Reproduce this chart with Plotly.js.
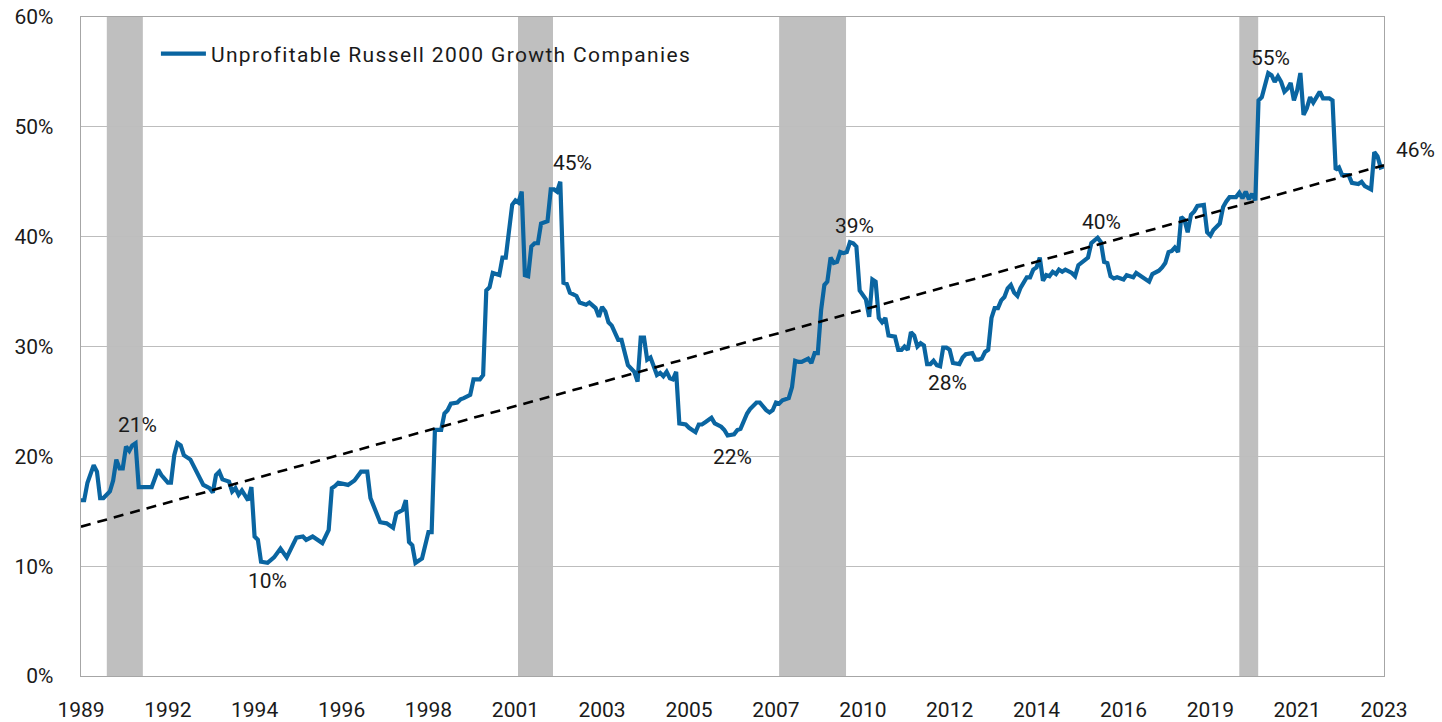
<!DOCTYPE html>
<html>
<head>
<meta charset="utf-8">
<script src="https://cdn.plot.ly/plotly-3.0.1.min.js"></script>
<style>
  html, body { margin: 0; padding: 0; background: #ffffff; }
  #chart { width: 1442px; height: 722px; }
  .legendtext { letter-spacing: 1.35px; }
</style>
</head>
<body>
<div id="chart"></div>
<script>
// Month-end observations, share (%) of unprofitable Russell 2000 Growth companies
const dates = [
  '1989-11','1989-12','1990-01','1990-03','1990-04','1990-05','1990-06','1990-08','1990-09','1990-10',
  '1990-11','1990-12','1991-01','1991-02','1991-03','1991-04','1991-05','1991-07','1991-09','1991-11',
  '1991-12','1992-02','1992-03','1992-04','1992-05','1992-06','1992-07','1992-09','1992-11','1993-01',
  '1993-03','1993-04','1993-05','1993-06','1993-07','1993-09','1993-10','1993-11','1993-12','1994-01',
  '1994-03','1994-04','1994-05','1994-06','1994-07','1994-09','1994-11','1995-01','1995-03','1995-05',
  '1995-06','1995-08','1995-09','1995-11','1995-12','1996-02','1996-04','1996-05','1996-06','1996-07',
  '1996-10','1996-12','1997-02','1997-04','1997-05','1997-06','1997-08','1997-10','1997-12','1998-01',
  '1998-03','1998-04','1998-05','1998-06','1998-07','1998-09','1998-11','1998-12','1999-01','1999-03',
  '1999-04','1999-05','1999-06','1999-08','1999-09','1999-10','1999-12','2000-01','2000-03','2000-04',
  '2000-05','2000-06','2000-07','2000-09','2000-10','2000-11','2001-01','2001-02','2001-03','2001-04',
  '2001-05','2001-06','2001-07','2001-08','2001-09','2001-10','2001-12','2002-01','2002-02','2002-03',
  '2002-04','2002-05','2002-06','2002-07','2002-09','2002-10','2002-12','2003-01','2003-03','2003-04',
  '2003-05','2003-06','2003-07','2003-08','2003-10','2003-11','2003-12','2004-01','2004-03','2004-04',
  '2004-05','2004-06','2004-07','2004-08','2004-09','2004-10','2004-11','2004-12','2005-01','2005-02',
  '2005-03','2005-04','2005-05','2005-07','2005-08','2005-10','2005-11','2005-12','2006-01','2006-03',
  '2006-04','2006-06','2006-07','2006-08','2006-10','2006-11','2006-12','2007-01','2007-02','2007-03',
  '2007-05','2007-06','2007-08','2007-09','2007-10','2007-11','2007-12','2008-01','2008-03','2008-04',
  '2008-05','2008-06','2008-07','2008-09','2008-10','2008-11','2008-12','2009-01','2009-02','2009-03',
  '2009-04','2009-05','2009-06','2009-07','2009-08','2009-09','2009-10','2009-11','2009-12','2010-01',
  '2010-02','2010-03','2010-04','2010-05','2010-06','2010-07','2010-08','2010-09','2010-10','2010-11',
  '2010-12','2011-01','2011-02','2011-03','2011-04','2011-05','2011-06','2011-07','2011-08','2011-09',
  '2011-10','2011-11','2011-12','2012-01','2012-02','2012-03','2012-04','2012-05','2012-06','2012-08',
  '2012-09','2012-10','2012-12','2013-01','2013-02','2013-03','2013-04','2013-05','2013-06','2013-07',
  '2013-08','2013-09','2013-10','2013-11','2013-12','2014-01','2014-02','2014-03','2014-04','2014-05',
  '2014-06','2014-07','2014-08','2014-09','2014-10','2014-11','2014-12','2015-01','2015-02','2015-03',
  '2015-04','2015-05','2015-07','2015-08','2015-09','2015-10','2015-11','2015-12','2016-01','2016-02',
  '2016-03','2016-04','2016-05','2016-06','2016-07','2016-08','2016-09','2016-11','2016-12','2017-01',
  '2017-02','2017-03','2017-05','2017-06','2017-07','2017-08','2017-10','2017-11','2017-12','2018-01',
  '2018-02','2018-03','2018-04','2018-05','2018-06','2018-07','2018-08','2018-09','2018-10','2018-12',
  '2019-01','2019-02','2019-03','2019-05','2019-06','2019-07','2019-08','2019-10','2019-11','2019-12',
  '2020-01','2020-02','2020-03','2020-04','2020-05','2020-06','2020-07','2020-08','2020-09','2020-10',
  '2020-11','2020-12','2021-01','2021-02','2021-03','2021-04','2021-05','2021-06','2021-07','2021-08',
  '2021-09','2021-10','2021-11','2021-12','2022-01','2022-03','2022-04','2022-05','2022-06','2022-07',
  '2022-09','2022-10','2022-12','2023-01','2023-02','2023-04','2023-05','2023-06','2023-07','2023-08'
];
const unprofitable = [
  16.0,16.0,17.6,19.2,18.6,16.2,16.2,16.8,17.8,19.7,
  18.9,18.9,20.9,20.5,21.0,21.2,17.2,17.2,17.2,18.8,
  18.3,17.6,17.6,20.1,21.2,21.0,20.1,19.7,18.6,17.4,
  17.1,16.7,18.3,18.6,17.9,17.7,16.8,17.1,16.5,16.9,
  16.0,17.2,12.7,12.4,10.4,10.3,10.8,11.6,10.8,12.1,
  12.6,12.7,12.4,12.7,12.5,12.1,13.3,17.1,17.3,17.6,
  17.4,17.8,18.6,18.6,16.2,15.4,14.0,13.9,13.5,14.8,
  15.1,16.0,12.2,11.9,10.3,10.7,13.1,13.1,22.4,22.4,
  23.9,24.2,24.8,24.9,25.2,25.3,25.6,27.0,27.0,27.4,
  35.1,35.4,36.7,36.5,38.1,38.1,42.9,43.3,43.1,44.1,
  36.5,36.4,39.1,39.4,39.4,41.2,41.4,44.3,44.3,44.1,
  45.0,35.8,35.7,34.9,34.6,34.0,33.8,34.0,33.5,32.7,
  33.6,33.2,32.2,31.9,30.6,30.6,29.4,28.3,27.7,26.8,
  30.8,30.8,28.8,29.0,28.2,27.4,27.6,27.3,27.7,27.1,
  27.0,27.7,23.0,22.9,22.6,22.2,22.9,22.9,23.1,23.5,
  23.0,22.7,22.4,21.9,22.0,22.4,22.5,23.3,23.9,24.3,
  24.9,24.9,24.2,24.0,24.2,24.9,24.8,25.1,25.3,26.3,
  28.7,28.6,28.6,28.9,28.5,29.4,29.4,33.3,35.6,35.9,
  38.1,37.6,37.7,38.6,38.5,38.6,39.5,39.4,39.1,35.1,
  34.7,34.3,32.7,36.1,35.9,32.6,32.2,32.6,31.0,30.9,
  30.9,29.7,29.7,30.0,29.7,31.3,31.0,30.0,30.3,30.1,
  28.4,28.4,28.7,28.3,28.2,29.9,29.9,29.7,28.5,28.4,
  29.0,29.3,29.4,28.8,28.8,28.9,29.5,29.7,32.6,33.5,
  33.5,34.2,34.5,35.3,35.6,34.9,34.6,35.3,35.9,36.3,
  36.3,37.0,37.2,38.1,36.0,36.5,36.4,36.8,36.6,37.0,
  36.8,37.0,36.7,36.4,37.4,37.6,37.8,38.1,39.4,39.7,
  39.9,39.5,37.7,37.6,36.4,36.2,36.3,36.1,36.5,36.4,
  36.3,36.7,36.3,36.2,35.9,36.6,36.9,37.2,37.6,38.6,
  38.7,39.0,38.6,41.8,41.5,40.4,42.0,42.3,42.8,42.9,
  40.4,40.1,40.6,41.2,42.7,43.2,43.6,43.6,44.0,43.5,
  44.1,43.4,43.9,43.3,52.4,52.7,53.8,54.9,54.7,54.1,
  54.6,54.1,53.2,53.5,54.0,52.4,53.3,54.9,51.1,51.7,
  52.7,52.2,52.7,53.2,52.6,52.6,52.4,46.1,46.3,45.6,
  45.6,44.9,44.8,45.0,44.6,44.3,47.7,47.3,46.3,46.4
];

// Linear trend (endpoints)
const trendDates = ['1989-11', '2023-08'];
const trendValues = [13.6, 46.5];

// Recession periods (shaded)
const recessionStart = ['1990-07-03', '2001-02-25', '2007-12-01', '2019-11-01'];
const recessionEnd   = ['1991-06-09', '2002-01-22', '2009-08-25', '2020-04-28'];

// X tick positions and labels
const tickDates = ['1989-11','1992-02','1994-05','1996-08','1998-11','2001-02','2003-05','2005-08',
                   '2007-11','2010-02','2012-05','2014-08','2016-11','2019-02','2021-05','2023-08'];
const tickLabels = ['1989','1992','1994','1996','1998','2001','2003','2005',
                    '2007','2010','2012','2014','2016','2019','2021','2023'];

// Callout labels
const labelDates  = ['1991-04','1994-09','2002-04','2006-08','2009-10','2012-02','2016-03','2020-08','2023-08'];
const labelValues = [21.2, 10.3, 45.0, 21.9, 39.5, 28.2, 39.9, 54.9, 46.4];
const labelTexts  = ['21%','10%','45%','22%','39%','28%','40%','55%','46%'];
const labelXShift = [2, 0, 12, 5, 5, 7, 4, 2, 31];
const labelYShift = [18, -18, 19, -22, 16, -17, 16, 15, 16];

const FONT = 'Roboto, "Noto Sans", sans-serif';
const TXT = '#1a1a1a';

const traces = [
  {
    x: dates, y: unprofitable, type: 'scatter', mode: 'lines',
    name: 'Unprofitable Russell 2000 Growth Companies',
    line: { color: '#0a65a1', width: 4.2 }
  },
  {
    x: trendDates, y: trendValues, type: 'scatter', mode: 'lines',
    showlegend: false, hoverinfo: 'skip',
    line: { color: '#000000', width: 2.6, dash: '10px,7px' }
  }
];

const shapes = recessionStart.map((s, i) => ({
  type: 'rect', xref: 'x', yref: 'paper',
  x0: s, x1: recessionEnd[i], y0: 0, y1: 1,
  fillcolor: '#bfbfbf', line: { width: 0 }, layer: 'below'
}));

const annotations = labelTexts.map((t, i) => ({
  x: labelDates[i], y: labelValues[i], text: t, showarrow: false,
  xanchor: 'center', yanchor: 'middle',
  xshift: labelXShift[i], yshift: labelYShift[i],
  font: { family: FONT, size: 21, color: TXT }
}));

const layout = {
  width: 1442, height: 722,
  margin: { l: 81, r: 58, t: 17, b: 46 },
  paper_bgcolor: '#ffffff', plot_bgcolor: '#ffffff',
  font: { family: FONT, size: 21, color: TXT },
  showlegend: true,
  legend: {
    x: 0.0575, y: 0.975, xanchor: 'left', yanchor: 'top',
    bgcolor: 'rgba(0,0,0,0)', font: { family: FONT, size: 21, color: TXT },
    itemwidth: 45
  },
  xaxis: {
    type: 'date',
    range: ['1989-11-01', '2023-08-01'],
    tickmode: 'array', tickvals: tickDates, ticktext: tickLabels,
    showgrid: false, zeroline: false,
    showline: true, linecolor: '#a6a6a6', linewidth: 1.3, mirror: true,
    ticks: '', ticklabelstandoff: 14,
    tickfont: { family: FONT, size: 21, color: TXT }
  },
  yaxis: {
    range: [0, 60],
    tickmode: 'array', tickvals: [0,10,20,30,40,50,60],
    ticktext: ['0%','10%','20%','30%','40%','50%','60%'],
    showgrid: true, gridcolor: '#bdbdbd', gridwidth: 1.3,
    zeroline: false,
    showline: true, linecolor: '#a6a6a6', linewidth: 1.3, mirror: true,
    ticks: '', ticklabelstandoff: 22,
    tickfont: { family: FONT, size: 21, color: TXT }
  },
  shapes: shapes,
  annotations: annotations
};

Plotly.newPlot('chart', traces, layout, { displayModeBar: false, staticPlot: true });
</script>
</body>
</html>
